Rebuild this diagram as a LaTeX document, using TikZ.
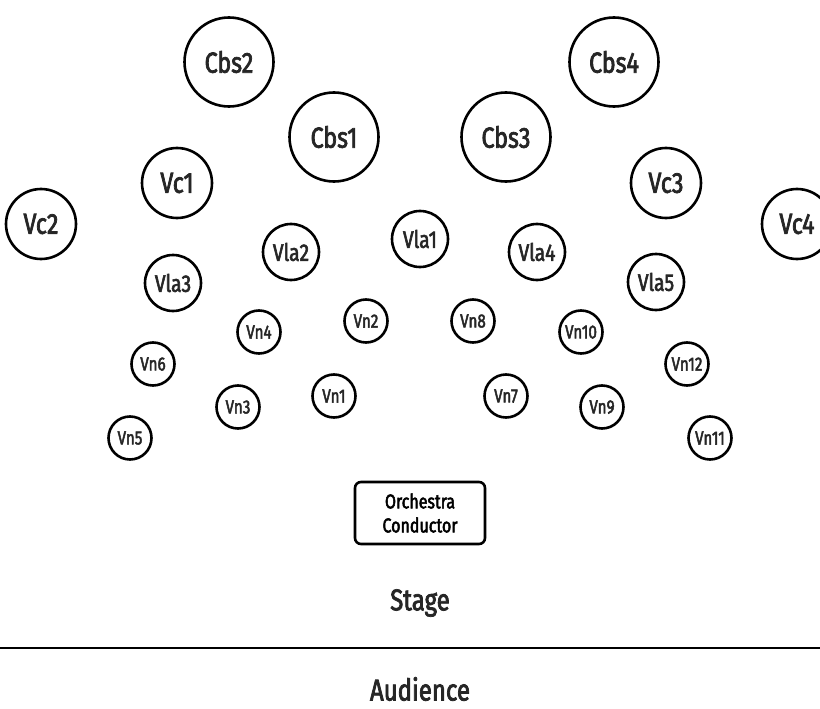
\documentclass[tikz,border=0pt]{standalone}
\usepackage{fontspec}
\setmainfont{Fira Sans}[FakeStretch=0.8,FakeBold=2.5]
\begin{document}
\begin{tikzpicture}[x=1pt,y=-1pt,
  seat/.style={circle,draw=black,line width=2.6pt,inner sep=0pt,text=black!85},
  big/.style={seat,minimum size=89pt,font=\fontsize{29}{32}\selectfont},
  mid/.style={seat,minimum size=70pt,font=\fontsize{29}{32}\selectfont},
  vla/.style={seat,minimum size=56pt,font=\fontsize{24}{26}\selectfont},
  vn/.style={seat,minimum size=43pt,font=\fontsize{19}{22}\selectfont},
  cond/.style={draw=black,line width=2.6pt,rounded corners=6pt,minimum width=130pt,minimum height=62pt,align=center,font=\fontsize{20}{24}\selectfont},
  lbl/.style={font=\fontsize{30}{32}\selectfont,text=black!85}]
\useasboundingbox (0,0) rectangle (820,709);
\node[big] (cbs2) at (229,62) {Cbs2};
\node[big] (cbs4) at (614,62) {Cbs4};
\node[big] (cbs1) at (334,137) {Cbs1};
\node[big] (cbs3) at (506,137) {Cbs3};
\node[mid] (vc1) at (177,183) {Vc1};
\node[mid] (vc3) at (666,183) {Vc3};
\node[mid] (vc2) at (41,224) {Vc2};
\node[mid] (vc4) at (797,224) {Vc4};
\node[vla] (vla2) at (291,252) {Vla2};
\node[vla] (vla1) at (420,239) {Vla1};
\node[vla] (vla4) at (537,252) {Vla4};
\node[vla] (vla3) at (173,283) {Vla3};
\node[vla] (vla5) at (656,282) {Vla5};
\node[vn] (vn4) at (259,332) {Vn4};
\node[vn] (vn2) at (366,321) {Vn2};
\node[vn] (vn8) at (473,321) {Vn8};
\node[vn] (vn10) at (581,332) {Vn10};
\node[vn] (vn6) at (153,364) {Vn6};
\node[vn] (vn12) at (687,364) {Vn12};
\node[vn] (vn3) at (238,407) {Vn3};
\node[vn] (vn1) at (334,396) {Vn1};
\node[vn] (vn7) at (506,396) {Vn7};
\node[vn] (vn9) at (602,407) {Vn9};
\node[vn] (vn5) at (130,438) {Vn5};
\node[vn] (vn11) at (710,438) {Vn11};
\node[cond] (conductor) at (420,513) {Orchestra\\Conductor};
\node[lbl] (stage) at (420,603) {Stage};
\coordinate (lineL) at (0,648);
\coordinate (lineR) at (820,648);
\draw[line width=2.8pt] (lineL) -- (lineR);
\node[lbl] (audience) at (420,689) {Audience};
\end{tikzpicture}
\end{document}
